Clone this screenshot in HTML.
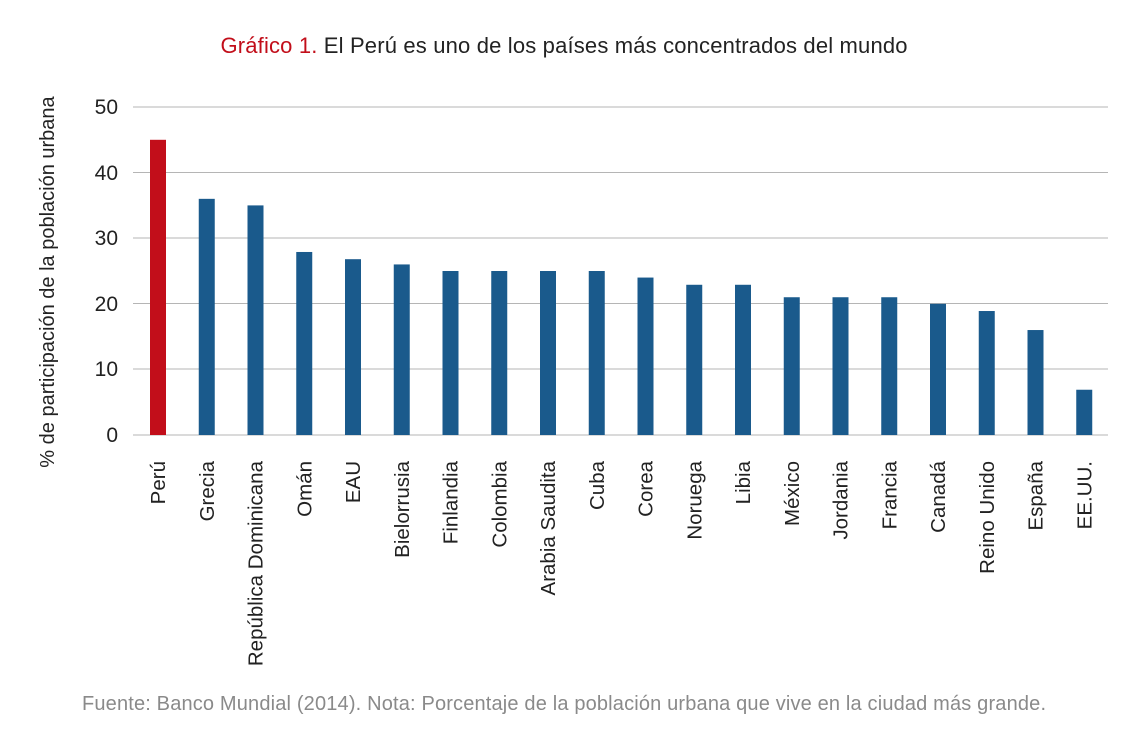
<!DOCTYPE html>
<html><head><meta charset="utf-8"><style>
body{margin:0;background:#fff;}
svg{display:block;font-family:"Liberation Sans",sans-serif;}
</style></head><body>
<svg width="1140" height="743" viewBox="0 0 1140 743">
<text x="564" y="53" text-anchor="middle" font-size="22" fill="#222" textLength="687"><tspan fill="#c20e1a">Gráfico 1.</tspan> El Perú es uno de los países más concentrados del mundo</text>
<g stroke="#b5b5b5" stroke-width="1">
<line x1="133" x2="1108" y1="107" y2="107"/><line x1="133" x2="1108" y1="172.5" y2="172.5"/>
<line x1="133" x2="1108" y1="238" y2="238"/><line x1="133" x2="1108" y1="303.5" y2="303.5"/>
<line x1="133" x2="1108" y1="369" y2="369"/><line x1="133" x2="1108" y1="435" y2="435"/>
</g>
<g font-size="21" fill="#222" text-anchor="end">
<text x="118" y="114">50</text><text x="118" y="180">40</text><text x="118" y="245">30</text>
<text x="118" y="311">20</text><text x="118" y="376">10</text><text x="118" y="442">0</text>
</g>
<text transform="translate(54,282) rotate(-90)" text-anchor="middle" font-size="20" fill="#222">% de participación de la población urbana</text>
<g id="bars"></g>
<g id="labels" font-size="20.5" fill="#222" text-anchor="end"></g>
<text x="564" y="710" text-anchor="middle" font-size="20" fill="#8a8a8a" textLength="964">Fuente: Banco Mundial (2014). Nota: Porcentaje de la población urbana que vive en la ciudad más grande.</text>
<script>
var d=[["Perú",45],["Grecia",36],["República Dominicana",35],["Omán",27.9],["EAU",26.8],["Bielorrusia",26],["Finlandia",25],["Colombia",25],["Arabia Saudita",25],["Cuba",25],["Corea",24],["Noruega",22.9],["Libia",22.9],["México",21],["Jordania",21],["Francia",21],["Canadá",20],["Reino Unido",18.9],["España",16],["EE.UU.",6.9]];
var b=document.getElementById("bars"),l=document.getElementById("labels"),ns="http://www.w3.org/2000/svg";
d.forEach(function(e,i){var cx=158+i*48.75,h=e[1]*6.56;
var r=document.createElementNS(ns,"rect");r.setAttribute("x",cx-8);r.setAttribute("y",435-h);r.setAttribute("width",16);r.setAttribute("height",h);r.setAttribute("fill",i==0?"#c20e1a":"#1a5a8c");b.appendChild(r);
var t=document.createElementNS(ns,"text");t.setAttribute("transform","translate("+(cx+7)+",461) rotate(-90)");t.textContent=e[0];l.appendChild(t);});
</script>
</svg>
</body></html>
